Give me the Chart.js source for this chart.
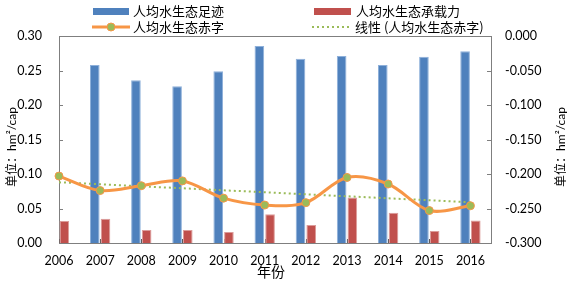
<!DOCTYPE html>
<html><head><meta charset="utf-8">
<script src="https://cdn.jsdelivr.net/npm/chart.js@4/dist/chart.umd.min.js"></script>
<style>html,body{margin:0;padding:0;background:#fff}#wrap{width:567px;height:282px;position:relative}</style>
</head><body><div id="wrap"><canvas id="c" width="567" height="282"></canvas></div>
<script>
// ---- data ----
const years = [2006, 2007, 2008, 2009, 2010, 2011, 2012, 2013, 2014, 2015, 2016];
const footprint = [null, 0.258, 0.236, 0.227, 0.249, 0.2855, 0.267, 0.271, 0.258, 0.270, 0.278];
const capacity = [0.032, 0.035, 0.019, 0.019, 0.016, 0.0415, 0.026, 0.066, 0.044, 0.0175, 0.0325];
const deficit = [-0.203, -0.224, -0.217, -0.210, -0.235, -0.245, -0.2415, -0.205, -0.2145, -0.253, -0.246];
const trendYears = [2006, 2016];
const trendValues = [-0.212, -0.241];
const seriesNames = ['人均水生态足迹', '人均水生态承载力', '人均水生态赤字', '线性 (人均水生态赤字)'];
const leftTickLabels = ['0.00', '0.05', '0.10', '0.15', '0.20', '0.25', '0.30'];
const rightTickLabels = ['-0.300', '-0.250', '-0.200', '-0.150', '-0.100', '-0.050', '0.000'];
const axisTitle = '单位：hm²/cap';
const xTitle = '年份';

const BLUE = '#4F81BD', RED = '#C0504D', ORANGE = '#F79646', GREEN = '#9BBB59', AXIS = '#7f7f7f';
const LATIN = '"Lato", "Noto Sans CJK SC", sans-serif';
const CJK = '"Noto Sans CJK SC", sans-serif';

const pts = (xs, ys) => xs.map((x, i) => ({x: x, y: ys[i]}));

const deco = {
  id: 'deco',
  beforeDatasetsDraw(chart) {
    const ctx = chart.ctx, a = chart.chartArea, sx = chart.scales.x, sy = chart.scales.y, sy2 = chart.scales.y2;
    ctx.save();
    ctx.strokeStyle = '#595959';
    ctx.lineWidth = 1;
    ctx.beginPath();
    years.forEach(yv => { const px = Math.round(sx.getPixelForValue(yv)) + 0.5; ctx.moveTo(px, a.bottom); ctx.lineTo(px, a.bottom - 4); });
    ctx.stroke();
    ctx.strokeStyle = AXIS;
    ctx.beginPath();
    sy.ticks.forEach(t => { const py = Math.round(sy.getPixelForValue(t.value)) + 0.5; ctx.moveTo(a.left, py); ctx.lineTo(a.left + 4, py); });
    sy2.ticks.forEach(t => { const py = Math.round(sy2.getPixelForValue(t.value)) + 0.5; ctx.moveTo(a.right, py); ctx.lineTo(a.right - 4, py); });
    ctx.moveTo(a.left, Math.round(a.top) + 0.5); ctx.lineTo(a.right, Math.round(a.top) + 0.5);
    ctx.stroke();
    ctx.restore();
  },
  afterDraw(chart) {
    const ctx = chart.ctx;
    ctx.save();
    // legend
    ctx.fillStyle = BLUE; ctx.fillRect(93, 8, 36, 7);
    ctx.fillStyle = RED; ctx.fillRect(314, 8, 37, 7);
    ctx.strokeStyle = ORANGE; ctx.lineWidth = 3;
    ctx.beginPath(); ctx.moveTo(92, 27); ctx.lineTo(130, 27); ctx.stroke();
    ctx.fillStyle = GREEN; ctx.lineWidth = 1;
    ctx.beginPath(); ctx.arc(111, 27, 4, 0, Math.PI * 2); ctx.fill(); ctx.stroke();
    ctx.strokeStyle = GREEN; ctx.lineWidth = 2; ctx.setLineDash([2, 3]);
    ctx.beginPath(); ctx.moveTo(312, 27); ctx.lineTo(349, 27); ctx.stroke();
    ctx.setLineDash([]);
    ctx.fillStyle = '#000';
    ctx.font = '13px ' + CJK;
    ctx.textBaseline = 'middle'; ctx.textAlign = 'left';
    ctx.fillText(seriesNames[0], 133, 11);
    ctx.fillText(seriesNames[1], 356, 11);
    ctx.fillText(seriesNames[2], 133, 27.5);
    ctx.fillText(seriesNames[3], 355, 27.5);
    // axis titles
    ctx.font = '12px ' + LATIN;
    ctx.textAlign = 'center';
    ctx.save(); ctx.translate(12, 147); ctx.rotate(-Math.PI / 2); ctx.fillText(axisTitle, 0, 0); ctx.restore();
    ctx.save(); ctx.translate(561, 147); ctx.rotate(-Math.PI / 2); ctx.fillText(axisTitle, 0, 0); ctx.restore();
    ctx.font = '14px ' + CJK;
    ctx.fillText(xTitle, 271, 272);
    ctx.restore();
  }
};

new Chart(document.getElementById('c'), {
  type: 'bar',
  data: {
    datasets: [
      { label: seriesNames[2], type: 'line', data: pts(years, deficit), xAxisID: 'x', yAxisID: 'y2',
        borderColor: ORANGE, borderWidth: 3, tension: 0.33, pointRadius: 4, pointBorderWidth: 1,
        pointBackgroundColor: GREEN, pointBorderColor: ORANGE, clip: false, order: 0 },
      { label: seriesNames[3], type: 'line', data: pts(trendYears, trendValues), xAxisID: 'x', yAxisID: 'y2',
        borderColor: GREEN, borderWidth: 2, borderDash: [2, 3], pointRadius: 0, order: 1 },
      { label: seriesNames[0], data: pts(years, footprint), xAxisID: 'x', yAxisID: 'y',
        backgroundColor: BLUE, borderColor: '#8EB0DA', borderWidth: 1,
        categoryPercentage: 0.52, barPercentage: 0.9, order: 2 },
      { label: seriesNames[1], data: pts(years, capacity), xAxisID: 'x', yAxisID: 'y',
        backgroundColor: RED, borderColor: '#DC9C9A', borderWidth: 1,
        categoryPercentage: 0.52, barPercentage: 0.9, order: 2 }
    ]
  },
  options: {
    responsive: false, animation: false,
    layout: { padding: { top: 36, left: 0, right: 0, bottom: 0 } },
    plugins: { legend: { display: false }, tooltip: { enabled: false } },
    scales: {
      x: { type: 'linear', position: 'bottom', offset: false, min: years[0], max: years[years.length - 1] + 0.5, bounds: 'data',
           grid: { display: false, drawTicks: false, offset: false }, border: { display: true, color: AXIS, width: 1 },
           ticks: { stepSize: 1, includeBounds: false, autoSkip: false, maxRotation: 0, padding: 10, color: '#000',
                    font: { family: LATIN, size: 12.5 }, callback: v => (Number.isInteger(v) && years.includes(v)) ? String(v) : '' },
           afterFit: s => { s.height = 39; } },
      y: { type: 'linear', position: 'left', min: 0, max: 0.3,
           grid: { display: false, drawTicks: false }, border: { display: true, color: AXIS, width: 1 },
           ticks: { stepSize: 0.05, padding: 17, color: '#000', font: { family: LATIN, size: 12.5 },
                    callback: (v) => leftTickLabels[Math.round(v / 0.05)] },
           afterFit: s => { s.width = 59; } },
      y2: { type: 'linear', position: 'right', min: -0.3, max: 0,
           grid: { display: false, drawTicks: false }, border: { display: true, color: AXIS, width: 1 },
           ticks: { stepSize: 0.05, padding: 14, color: '#000', font: { family: LATIN, size: 12.5 },
                    callback: (v) => rightTickLabels[Math.round((v + 0.3) / 0.05)] },
           afterFit: s => { s.width = 76; } }
    }
  },
  plugins: [deco]
});
</script></body></html>
